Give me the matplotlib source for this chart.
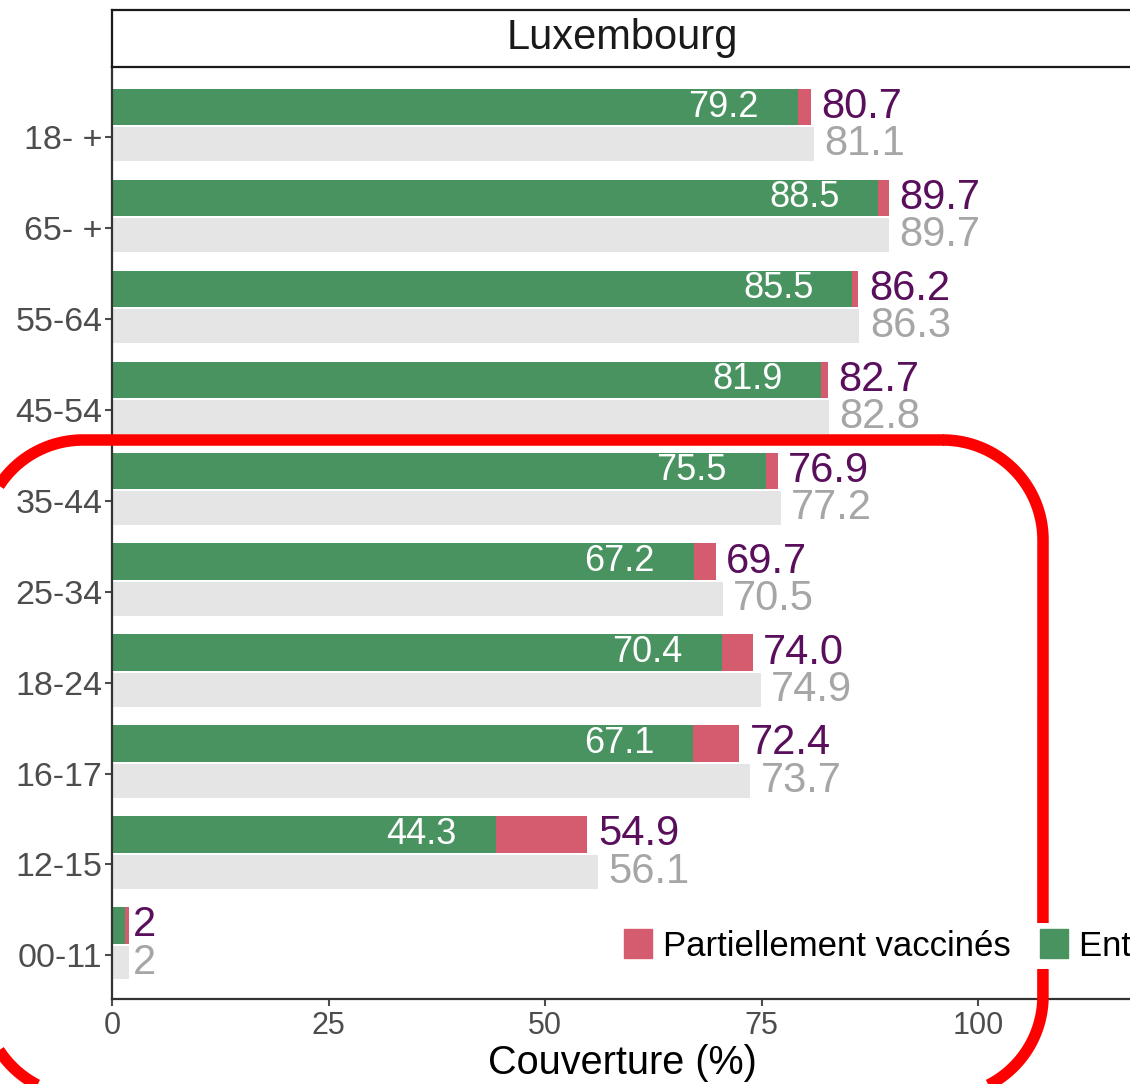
"""Couverture vaccinale par groupe d'âge - Luxembourg"""
import matplotlib
matplotlib.use("Agg")
import matplotlib.pyplot as plt
from matplotlib.lines import Line2D
from matplotlib.patches import Patch
from matplotlib.transforms import IdentityTransform
import numpy as np

plt.rcParams["font.family"] = ["Liberation Sans", "DejaVu Sans"]

# données
groupes = ["18- +", "65- +", "55-64", "45-54", "35-44", "25-34", "18-24", "16-17", "12-15", "00-11"]
entierement = [79.2, 88.5, 85.5, 81.9, 75.5, 67.2, 70.4, 67.1, 44.3, 1.5]
au_moins_une = [80.7, 89.7, 86.2, 82.7, 76.9, 69.7, 74.0, 72.4, 54.9, 2.0]
total = [81.1, 89.7, 86.3, 82.8, 77.2, 70.5, 74.9, 73.7, 56.1, 2.0]
xticks = [0, 25, 50, 75, 100]

VERT = "#48935F"
ROUGE = "#D45C6E"
GRIS = "#E5E5E5"
VIOLET = "#5A0F5C"
GRIS_TXT = "#A6A6A6"
AXE = "#333333"


def fmt(v):
    return f"{v:.1f}" if v >= 10 else f"{v:.0f}"


def rect_arrondi(x0, y0, x1, y1, r, n=40):
    """contour ouvert d'un rectangle arrondi (pixels, origine en bas à gauche)"""
    xs, ys = [], []
    coins = [(x1 - r, y1 - r, 90, 0), (x1 - r, y0 + r, 0, -90),
             (x0 + r, y0 + r, -90, -180), (x0 + r, y1 - r, 180, 90)]
    for cx, cy, a0, a1 in coins:
        t = np.radians(np.linspace(a0, a1, n))
        xs += list(cx + r * np.cos(t))
        ys += list(cy + r * np.sin(t))
    # on referme en repassant un peu sur le début
    xs += [x1 - r, x1 - r + 1]
    ys += [y1, y1]
    return xs, ys


W, H = 1130, 1084
fig = plt.figure(figsize=(W / 100, H / 100), dpi=100)
ax = fig.add_axes([112 / W, 1 - 999 / H, 1020 / W, 932 / H])

y = np.arange(len(groupes))
ent = np.array(entierement)
part = np.array(au_moins_une) - ent
tot = np.array(total)

ax.barh(y - 0.33, ent, height=0.40, color=VERT, zorder=2)
ax.barh(y - 0.33, part, left=ent, height=0.40, color=ROUGE, zorder=2)
ax.barh(y + 0.08, tot, height=0.37, color=GRIS, zorder=2)

for i in range(len(groupes)):
    if entierement[i] >= 10:
        ax.text(entierement[i] - 4.5, y[i] - 0.33, fmt(entierement[i]), color="white",
                fontsize=26, ha="right", va="center", zorder=3)
    # petit décalage pour les valeurs < 10 (comme sur l'original)
    dx = 1.2 if au_moins_une[i] >= 10 else 0.4
    ax.text(au_moins_une[i] + dx, y[i] - 0.33, fmt(au_moins_une[i]), color=VIOLET,
            fontsize=30, ha="left", va="center", zorder=3)
    ax.text(total[i] + dx, y[i] + 0.08, fmt(total[i]), color=GRIS_TXT,
            fontsize=30, ha="left", va="center", zorder=3)

ax.set_xlim(0, 1020 / 8.66)
ax.set_ylim(9.48, -0.77)
ax.set_yticks(y)
ax.set_yticklabels(groupes)
ax.set_xticks(xticks)
ax.tick_params(axis="y", labelsize=24.5, colors="#4D4D4D", length=5, width=1.5, pad=2)
ax.tick_params(axis="x", labelsize=22, colors="#4D4D4D", length=5, width=1.5, pad=4)
ax.set_xlabel("Couverture (%)", fontsize=28.5, color="black", labelpad=2)
for s in ["top", "right"]:
    ax.spines[s].set_visible(False)
for s in ["left", "bottom"]:
    ax.spines[s].set_color(AXE)
    ax.spines[s].set_linewidth(1.6)

# bandeau du facet
strip = fig.add_axes([112 / W, 1 - 67 / H, 1020 / W, 57 / H])
strip.set_xticks([])
strip.set_yticks([])
for s in strip.spines.values():
    s.set_color("#1A1A1A")
    s.set_linewidth(1.6)
strip.text(0.5, 0.5, "Luxembourg", fontsize=30, color="#1A1A1A",
           ha="center", va="center", transform=strip.transAxes)

# cadre rouge arrondi (annotation)
cx, cy = rect_arrondi(-17, H - 1096, 1043, H - 440, 100)
cadre = Line2D(cx, cy, color="#FF0000", linewidth=8.3, transform=IdentityTransform(),
               solid_joinstyle="round", solid_capstyle="butt", zorder=4)
fig.add_artist(cadre)

handles = [Patch(color=ROUGE, label="Partiellement vaccinés"),
           Patch(color=VERT, label="Entièrement vaccinés")]
leg = fig.legend(handles=handles, loc="center left", bbox_to_anchor=(617 / W, 1 - 946 / H),
                 ncol=2, fontsize=25, frameon=True, facecolor="white", edgecolor="none",
                 framealpha=1, fancybox=False, handlelength=0.8, handleheight=0.87,
                 handletextpad=0.32, columnspacing=0.84, borderpad=0.2, borderaxespad=0)
leg.set_zorder(5)

plt.savefig("out.png", dpi=100)
plt.close()
